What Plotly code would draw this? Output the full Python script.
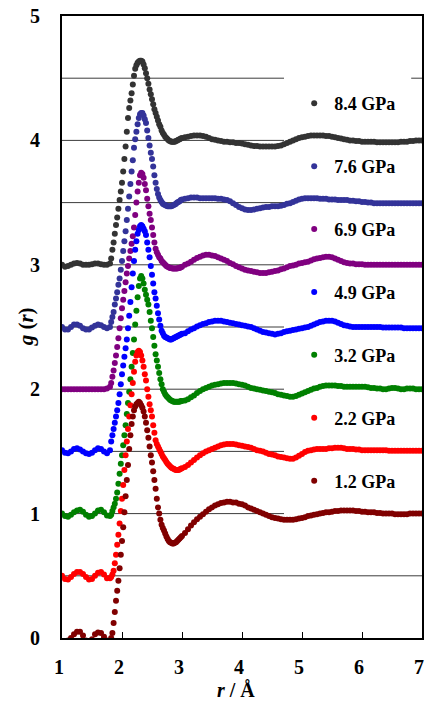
import numpy as np
import plotly.graph_objects as go

# ---------------- sampling grid (r in Angstrom) ----------------
r_low = np.round(np.arange(1.00, 1.751, 0.05), 2)    # 16 points
r_mid = np.round(np.arange(1.80, 3.001, 0.02), 2)    # 61 points
r_high = np.round(np.arange(3.05, 7.001, 0.05), 2)   # 80 points
r = np.concatenate([r_low, r_mid, r_high])

# ---------------- series (g(r)) ----------------
g12_low = [-0.03, -0.04, -0.02, 0.00, 0.03, 0.05, 0.05, 0.02, -0.02, -0.03, -0.01, 0.03, 0.045, 0.04, 0.01, -0.02]
g12_mid = [-0.02, 0.00, 0.04, 0.12, 0.21, 0.30, 0.38, 0.46, 0.56, 0.67,
           0.78, 0.89, 1.01, 1.14, 1.27, 1.39, 1.52, 1.63, 1.72, 1.78,
           1.83, 1.86, 1.88, 1.89, 1.90, 1.89, 1.87, 1.85, 1.82, 1.78,
           1.73, 1.67, 1.61, 1.54, 1.47, 1.41, 1.34, 1.27, 1.20, 1.12,
           1.05, 1.00, 0.95, 0.91, 0.885, 0.865, 0.84, 0.815, 0.795, 0.78,
           0.77, 0.765, 0.76, 0.76, 0.765, 0.77, 0.78, 0.79, 0.80, 0.81,
           0.82]
g12_high = [0.845, 0.875, 0.905, 0.93, 0.955, 0.975, 0.995, 1.015, 1.035, 1.05,
            1.065, 1.075, 1.085, 1.09, 1.095, 1.095, 1.09, 1.09, 1.08, 1.075,
            1.065, 1.05, 1.04, 1.03, 1.02, 1.01, 1.00, 0.99, 0.98, 0.97,
            0.965, 0.96, 0.955, 0.95, 0.95, 0.95, 0.95, 0.955, 0.96, 0.965,
            0.97, 0.98, 0.985, 0.99, 0.995, 1.00, 1.005, 1.01, 1.01, 1.015,
            1.02, 1.02, 1.025, 1.025, 1.025, 1.025, 1.025, 1.02, 1.02, 1.015,
            1.015, 1.01, 1.01, 1.01, 1.005, 1.005, 1.00, 1.00, 1.00, 1.00,
            0.995, 0.995, 0.995, 0.995, 0.995, 1.00, 1.00, 1.00, 1.00, 1.00]

g22_low = [0.00, -0.025, -0.03, -0.01, 0.015, 0.03, 0.03, 0.015, -0.01, -0.03, -0.025, 0.00, 0.025, 0.03, 0.01, -0.02]
g22_mid = [-0.02, -0.01, 0.01, 0.04, 0.10, 0.17, 0.25, 0.33, 0.42, 0.52,
           0.62, 0.73, 0.85, 0.97, 1.08, 1.18, 1.28, 1.37, 1.46, 1.55,
           1.64, 1.72, 1.77, 1.80, 1.81, 1.80, 1.77, 1.73, 1.68, 1.62,
           1.57, 1.50, 1.44, 1.38, 1.33, 1.28, 1.21, 1.15, 1.09, 1.06,
           1.04, 1.02, 1.00, 0.98, 0.96, 0.945, 0.93, 0.915, 0.90, 0.89,
           0.88, 0.87, 0.865, 0.86, 0.855, 0.85, 0.85, 0.85, 0.855, 0.86,
           0.865]
g22_high = [0.875, 0.89, 0.91, 0.93, 0.95, 0.97, 0.985, 1.00, 1.01, 1.02,
            1.03, 1.04, 1.05, 1.055, 1.06, 1.06, 1.06, 1.055, 1.05, 1.045,
            1.04, 1.035, 1.03, 1.02, 1.01, 1.005, 1.00, 0.99, 0.98, 0.975,
            0.97, 0.96, 0.955, 0.95, 0.945, 0.94, 0.94, 0.95, 0.965, 0.98,
            0.995, 1.005, 1.01, 1.015, 1.02, 1.02, 1.02, 1.02, 1.025, 1.025,
            1.03, 1.03, 1.03, 1.025, 1.02, 1.02, 1.02, 1.015, 1.015, 1.01,
            1.01, 1.01, 1.01, 1.01, 1.01, 1.01, 1.01, 1.01, 1.005, 1.005,
            1.005, 1.005, 1.005, 1.005, 1.005, 1.005, 1.005, 1.005, 1.005, 1.005]

g32_low = [0.00, -0.02, -0.025, -0.01, 0.01, 0.025, 0.03, 0.015, -0.01, -0.025, -0.02, 0.00, 0.025, 0.03, 0.01, -0.015]
g32_mid = [-0.02, -0.01, 0.02, 0.05, 0.08, 0.12, 0.17, 0.24, 0.32, 0.40,
           0.47, 0.55, 0.63, 0.71, 0.80, 0.89, 0.98, 1.08, 1.18, 1.29,
           1.40, 1.52, 1.63, 1.74, 1.83, 1.89, 1.91, 1.89, 1.85, 1.80,
           1.76, 1.72, 1.68, 1.62, 1.55, 1.49, 1.42, 1.35, 1.28, 1.23,
           1.18, 1.13, 1.08, 1.04, 1.00, 0.98, 0.96, 0.945, 0.935, 0.925,
           0.915, 0.91, 0.905, 0.90, 0.90, 0.90, 0.90, 0.90, 0.90, 0.905,
           0.905]
g32_high = [0.91, 0.92, 0.935, 0.95, 0.97, 0.985, 1.00, 1.01, 1.02, 1.03,
            1.035, 1.04, 1.045, 1.05, 1.05, 1.05, 1.05, 1.045, 1.04, 1.035,
            1.03, 1.02, 1.01, 1.005, 1.00, 0.995, 0.99, 0.985, 0.98, 0.975,
            0.97, 0.96, 0.955, 0.95, 0.945, 0.94, 0.94, 0.945, 0.955, 0.965,
            0.975, 0.985, 0.995, 1.005, 1.01, 1.02, 1.025, 1.03, 1.03, 1.03,
            1.03, 1.025, 1.025, 1.02, 1.02, 1.02, 1.02, 1.02, 1.02, 1.02,
            1.02, 1.015, 1.01, 1.01, 1.005, 1.005, 1.00, 1.00, 1.005, 1.01,
            1.01, 1.005, 1.00, 1.00, 1.005, 1.005, 1.005, 1.00, 1.00, 1.00]

g49_low = [0.01, -0.01, -0.015, 0.00, 0.02, 0.025, 0.015, 0.00, -0.015, -0.02, -0.01, 0.01, 0.025, 0.02, 0.00, -0.015]
g49_mid = [0.01, 0.08, 0.13, 0.18, 0.23, 0.28, 0.33, 0.39, 0.46, 0.54,
           0.62, 0.69, 0.76, 0.83, 0.90, 0.99, 1.09, 1.20, 1.32, 1.43,
           1.53, 1.62, 1.69, 1.75, 1.78, 1.81, 1.82, 1.81, 1.79, 1.77,
           1.74, 1.68, 1.62, 1.56, 1.49, 1.42, 1.35, 1.28, 1.23, 1.17,
           1.11, 1.06, 1.01, 0.97, 0.95, 0.93, 0.92, 0.915, 0.91, 0.905,
           0.90, 0.90, 0.905, 0.91, 0.915, 0.92, 0.925, 0.93, 0.935, 0.94,
           0.945]
g49_high = [0.95, 0.965, 0.98, 0.99, 1.005, 1.015, 1.025, 1.03, 1.04, 1.045,
            1.05, 1.05, 1.05, 1.045, 1.04, 1.035, 1.03, 1.025, 1.02, 1.015,
            1.01, 1.005, 1.00, 0.99, 0.98, 0.97, 0.96, 0.955, 0.95, 0.945,
            0.94, 0.945, 0.95, 0.96, 0.965, 0.97, 0.975, 0.98, 0.985, 0.99,
            0.995, 1.00, 1.01, 1.02, 1.03, 1.04, 1.045, 1.05, 1.05, 1.05,
            1.045, 1.035, 1.025, 1.015, 1.01, 1.005, 1.00, 1.00, 1.00, 1.00,
            1.00, 1.00, 1.00, 1.00, 1.00, 1.00, 0.995, 0.995, 0.995, 0.995,
            0.995, 0.995, 0.995, 0.99, 0.99, 0.99, 0.99, 0.99, 0.99, 0.99]

g69_low = [0.00, 0.00, 0.00, 0.00, 0.00, 0.00, 0.00, 0.00, 0.00, 0.00, 0.00, 0.00, 0.00, 0.00, 0.00, 0.005]
g69_mid = [0.02, 0.05, 0.10, 0.15, 0.21, 0.27, 0.34, 0.41, 0.49, 0.57,
           0.65, 0.72, 0.79, 0.86, 0.93, 0.99, 1.05, 1.11, 1.17, 1.23,
           1.30, 1.40, 1.50, 1.59, 1.66, 1.72, 1.74, 1.73, 1.70, 1.65,
           1.60, 1.53, 1.47, 1.41, 1.36, 1.30, 1.24, 1.18, 1.13, 1.10,
           1.08, 1.06, 1.05, 1.03, 1.02, 1.01, 1.00, 0.99, 0.985, 0.98,
           0.975, 0.975, 0.97, 0.97, 0.97, 0.97, 0.97, 0.975, 0.975, 0.98,
           0.985]
g69_high = [1.00, 1.01, 1.025, 1.04, 1.055, 1.065, 1.075, 1.08, 1.08, 1.075,
            1.07, 1.06, 1.05, 1.04, 1.03, 1.015, 1.005, 0.99, 0.98, 0.97,
            0.96, 0.955, 0.95, 0.945, 0.94, 0.935, 0.935, 0.935, 0.94, 0.945,
            0.95, 0.955, 0.965, 0.97, 0.98, 0.99, 0.995, 1.00, 1.01, 1.015,
            1.02, 1.025, 1.035, 1.045, 1.05, 1.055, 1.06, 1.065, 1.065, 1.06,
            1.05, 1.04, 1.03, 1.02, 1.015, 1.01, 1.01, 1.005, 1.005, 1.005,
            1.00, 1.00, 1.00, 1.00, 1.00, 1.00, 1.00, 1.00, 1.00, 1.00,
            1.00, 1.00, 1.00, 1.00, 1.00, 1.00, 1.00, 1.00, 1.00, 1.00]

g76_low = [0.00, -0.02, -0.02, 0.00, 0.02, 0.02, 0.01, -0.01, -0.02, -0.02, -0.005, 0.01, 0.02, 0.015, 0.00, -0.01]
g76_mid = [0.00, 0.04, 0.08, 0.12, 0.18, 0.23, 0.28, 0.34, 0.39, 0.46,
           0.53, 0.61, 0.69, 0.77, 0.86, 0.95, 1.05, 1.15, 1.25, 1.34,
           1.44, 1.51, 1.57, 1.63, 1.68, 1.71, 1.72, 1.72, 1.70, 1.67,
           1.64, 1.58, 1.52, 1.46, 1.40, 1.35, 1.29, 1.22, 1.16, 1.11,
           1.07, 1.04, 1.02, 1.005, 0.99, 0.985, 0.98, 0.975, 0.97, 0.97,
           0.97, 0.97, 0.975, 0.98, 0.985, 0.99, 1.00, 1.005, 1.01, 1.02,
           1.025]
g76_high = [1.03, 1.035, 1.04, 1.04, 1.04, 1.035, 1.035, 1.035, 1.035, 1.035,
            1.035, 1.03, 1.03, 1.025, 1.02, 1.01, 0.995, 0.98, 0.965, 0.955,
            0.945, 0.94, 0.94, 0.945, 0.95, 0.955, 0.96, 0.965, 0.965, 0.97,
            0.97, 0.97, 0.975, 0.98, 0.99, 0.995, 1.005, 1.015, 1.025, 1.03,
            1.035, 1.035, 1.035, 1.035, 1.035, 1.03, 1.03, 1.03, 1.025, 1.025,
            1.025, 1.02, 1.02, 1.02, 1.02, 1.015, 1.015, 1.01, 1.01, 1.005,
            1.005, 1.00, 1.00, 0.995, 0.995, 0.995, 0.995, 0.995, 0.995, 0.995,
            0.995, 0.995, 0.995, 0.995, 0.995, 0.995, 0.995, 0.995, 0.995, 0.995]

g84_low = [0.00, -0.015, -0.01, 0.00, 0.01, 0.015, 0.01, 0.00, 0.00, 0.00, 0.005, 0.01, 0.01, 0.005, 0.00, 0.00]
g84_mid = [0.01, 0.05, 0.12, 0.18, 0.25, 0.32, 0.38, 0.45, 0.52, 0.59,
           0.66, 0.75, 0.85, 0.95, 1.07, 1.18, 1.26, 1.32, 1.38, 1.45,
           1.52, 1.575, 1.605, 1.625, 1.635, 1.64, 1.64, 1.635, 1.61, 1.58,
           1.54, 1.50, 1.455, 1.41, 1.37, 1.33, 1.29, 1.25, 1.22, 1.19,
           1.16, 1.13, 1.11, 1.08, 1.06, 1.045, 1.03, 1.02, 1.01, 1.00,
           0.995, 0.99, 0.99, 0.99, 0.99, 0.995, 1.00, 1.005, 1.01, 1.015,
           1.02]
g84_high = [1.025, 1.03, 1.035, 1.04, 1.04, 1.04, 1.035, 1.03, 1.02, 1.01,
            1.005, 1.00, 0.995, 0.99, 0.99, 0.985, 0.985, 0.98, 0.98, 0.975,
            0.97, 0.965, 0.96, 0.955, 0.955, 0.95, 0.95, 0.95, 0.95, 0.95,
            0.95, 0.955, 0.96, 0.97, 0.98, 0.99, 1.00, 1.01, 1.02, 1.025,
            1.03, 1.035, 1.04, 1.04, 1.04, 1.04, 1.04, 1.035, 1.035, 1.03,
            1.025, 1.02, 1.015, 1.01, 1.005, 1.00, 1.00, 0.995, 0.995, 0.99,
            0.99, 0.99, 0.99, 0.99, 0.985, 0.985, 0.985, 0.985, 0.985, 0.985,
            0.985, 0.985, 0.99, 0.99, 0.99, 0.995, 0.995, 1.00, 1.00, 1.00]

labels = ["8.4 GPa", "7.6 GPa", "6.9 GPa", "4.9 GPa", "3.2 GPa", "2.2 GPa", "1.2 GPa"]
offsets = [3.0, 2.5, 2.0, 1.5, 1.0, 0.5, 0.0]
colors = ["#333333", "#333399", "#800080", "#0000FF", "#008000", "#FF0000", "#800000"]
series = [
    g84_low + g84_mid + g84_high,
    g76_low + g76_mid + g76_high,
    g69_low + g69_mid + g69_high,
    g49_low + g49_mid + g49_high,
    g32_low + g32_mid + g32_high,
    g22_low + g22_mid + g22_high,
    g12_low + g12_mid + g12_high,
]

x_ticks = [1, 2, 3, 4, 5, 6, 7]
y_ticks = [0, 1, 2, 3, 4, 5]
grid_levels = [0.5, 1.0, 1.5, 2.0, 2.5, 3.0, 3.5, 4.0, 4.5]
legend_gap = (4.70, 6.82)   # gridlines are interrupted behind the legend

FONT = "Liberation Serif, Times New Roman, serif"

fig = go.Figure()
for lab, off, col, g in zip(labels, offsets, colors, series):
    assert len(g) == len(r), (lab, len(g))
    fig.add_trace(go.Scatter(
        x=r, y=np.array(g) + off, mode="markers", name=lab,
        legendgroup=lab,
        marker=dict(color=col, size=6, line=dict(width=0)),
        cliponaxis=True, hoverinfo="skip",
    ))

shapes = []
for lv in grid_levels:
    if lv >= 1.0:
        segs = [(1, legend_gap[0]), (legend_gap[1], 7)]
    else:
        segs = [(1, 7)]
    for a, b in segs:
        shapes.append(dict(type="line", xref="x", yref="y", x0=a, x1=b, y0=lv, y1=lv,
                           line=dict(color="#3c3c3c", width=1), layer="below"))

fig.update_layout(
    width=427, height=702,
    margin=dict(l=62, r=3, t=16, b=64),
    paper_bgcolor="white", plot_bgcolor="white",
    font=dict(family=FONT, size=20, color="black", weight="bold"),
    shapes=shapes,
    showlegend=True,
    legend=dict(
        x=0.645, xanchor="left", y=0.889, yanchor="top",
        bgcolor="rgba(0,0,0,0)", borderwidth=0,
        font=dict(family=FONT, size=18, color="black", weight="bold"),
        tracegroupgap=36.5, itemsizing="trace",
    ),
    annotations=[
        dict(text="<i>g</i> (<i>r</i>)", xref="paper", yref="paper", x=-0.099, y=0.5,
             xanchor="center", yanchor="middle", textangle=-90, showarrow=False,
             font=dict(family=FONT, size=21, color="black", weight="bold")),
        dict(text="<i>r</i> / Å", xref="paper", yref="paper", x=0.482, y=-0.084,
             xanchor="center", yanchor="middle", showarrow=False,
             font=dict(family=FONT, size=20, color="black", weight="bold")),
    ],
)
fig.update_xaxes(
    range=[1, 7], tickvals=x_ticks, ticks="inside", ticklen=6, tickwidth=1, tickcolor="black",
    showline=True, linecolor="black", linewidth=2, mirror=True,
    showgrid=False, zeroline=False, ticklabelstandoff=10, ticklabelshift=-3,
)
fig.update_yaxes(
    range=[0, 5], tickvals=y_ticks, ticks="",
    showline=True, linecolor="black", linewidth=2, mirror=True,
    showgrid=False, zeroline=False, ticklabelstandoff=16,
)

fig.write_html("out.html", config={"displayModeBar": False},
               post_script="document.body.style.margin='0';")
